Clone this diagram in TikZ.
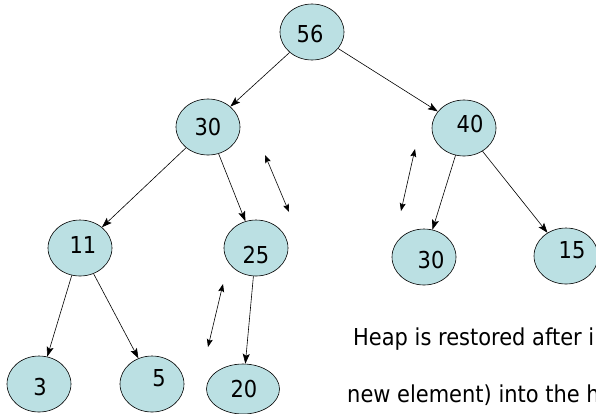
\documentclass[tikz,border=0pt]{standalone}
\usepackage{fontspec}
\setmainfont{DejaVu Sans}[FakeStretch=0.9]
\usepackage{xcolor}
\usepackage{tikz}
\usetikzlibrary{arrows.meta, shapes.geometric}
\definecolor{heapFill}{RGB}{187, 224, 227}

\tikzset{
	heap/.style={ellipse, draw=black, fill=heapFill, line width=0.6pt,
		minimum width=64pt, minimum height=56pt, inner sep=0pt},
	key/.style={font=\fontsize{23.3}{28}\selectfont},
	tree/.style={-{Stealth[length=10pt, width=7pt, inset=2pt]}, line width=0.6pt},
	swap/.style={{Stealth[length=8pt, width=6pt, inset=1.5pt]}-{Stealth[length=8pt, width=6pt, inset=1.5pt]}, line width=0.6pt}
}

\begin{document}
\begin{tikzpicture}[x=1pt, y=-1pt]

	\useasboundingbox (0,0) rectangle (596,413);
	\clip (0,0) rectangle (596,413);

	% the heap, one level per row
	\node[heap, label={[key, shift={(-2,2)}]center:56}] (n56) at (312,32) {};

	\node[heap, label={[key]center:30}] (n30) at (208,127) {};
	\node[heap, label={[key, shift={(6,-4)}]center:40}] (n40) at (464,128) {};

	\node[heap, label={[key, shift={(3,-3)}]center:11}] (n11) at (80,248) {};
	\node[heap, label={[key, shift={(0,7)}]center:25}] (n25) at (256,248) {};
	\node[heap, label={[key, shift={(7,3)}]center:30}] (n30b) at (424,257) {};
	\node[heap, label={[key, shift={(6,-6)}]center:15}] (n15) at (566,256) {};

	\node[heap, label={[key, shift={(1,3)}]center:3}] (n3) at (39,384) {};
	\node[heap, label={[key, shift={(7,-6)}]center:5}] (n5) at (152,384) {};
	\node[heap, minimum width=73pt, minimum height=50pt, label={[key, shift={(1,0)}]center:20}] (n20) at (243,389) {};

	\draw[tree] (n56) -- (n30);
	\draw[tree] (n56) -- (n40);
	\draw[tree] (n30) -- (n11);
	\draw[tree] (n30) -- (n25);
	\draw[tree] (n40) -- (n30b);
	\draw[tree] (n40) -- (n15);
	\draw[tree] (n11) -- (n3);
	\draw[tree] (n11) -- (n5);
	\draw[tree] (n25) -- (n20);

	% swaps
	\coordinate (s1a) at (265,155);
	\coordinate (s1b) at (289,212);
	\coordinate (s2a) at (415,149);
	\coordinate (s2b) at (401,211);
	\coordinate (s3a) at (223,284);
	\coordinate (s3b) at (208,347);
	\draw[swap] (s1a) -- (s1b);
	\draw[swap] (s2a) -- (s2b);
	\draw[swap] (s3a) -- (s3b);

	\node[key, anchor=base west, inner sep=0pt] (line1) at (353,345) {Heap is restored after i};
	\node[key, anchor=base west, inner sep=0pt] (line2) at (347,402) {new element) into the h};

\end{tikzpicture}
\end{document}
